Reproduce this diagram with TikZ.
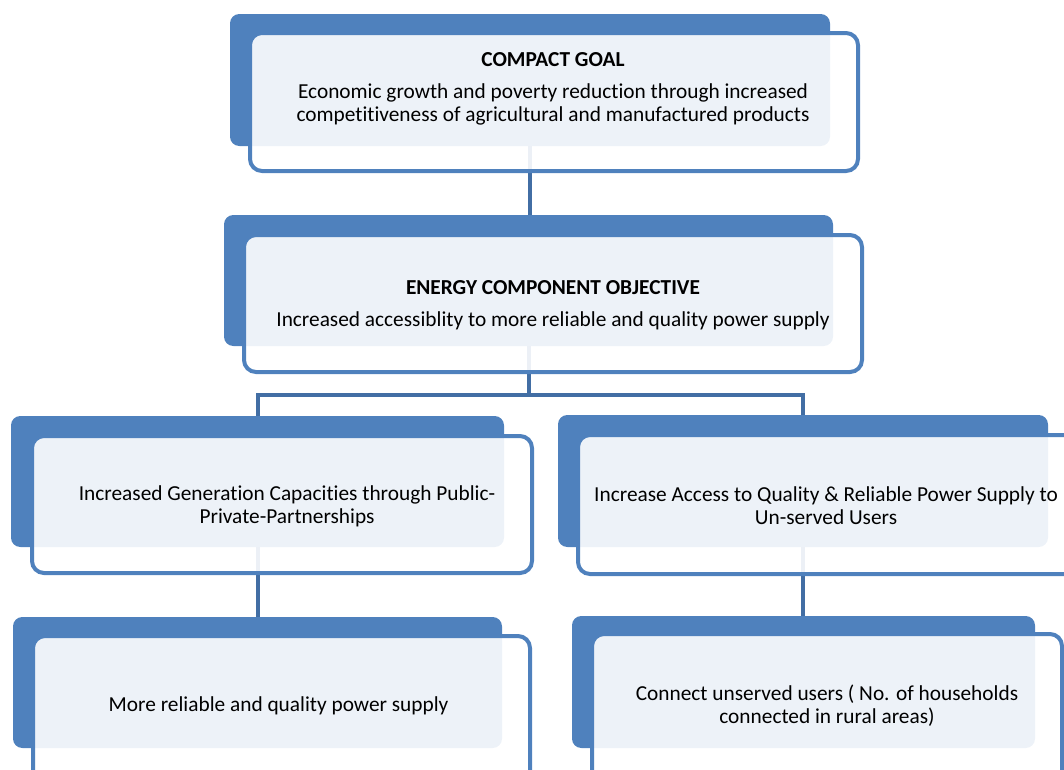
\documentclass[tikz,border=0pt]{standalone}
\usepackage{fontspec}
\setmainfont{Carlito}[Ligatures=NoCommon]
\usetikzlibrary{fit,backgrounds}

\definecolor{tabblue}{RGB}{79,129,189}
\definecolor{linkblue}{RGB}{66,110,164}

\begin{document}
\begin{tikzpicture}[
  x=0.75pt, y=-0.75pt,
  font=\fontsize{16pt}{17.25pt}\selectfont,
  tab/.style={
    fill=tabblue,
    rounded corners=7pt,
    inner sep=0pt
  },
  frame/.style={
    draw=tabblue,
    line width=3pt,
    fill=white,
    fill opacity=0.9,
    rounded corners=9pt,
    inner sep=0pt
  },
  txt/.style={
    align=center,
    text=black,
    inner sep=0pt
  },
  link/.style={draw=linkblue, line width=3pt}
]
\useasboundingbox (0,0) rectangle (1064,769);

% Compact goal
\node[tab, fit={(230,14) (830,146)}] (goal-tab) {};
\node[frame, fit={(250,33) (858,171)}] (goal) {};
\node[txt] (goal-text) at (553,89) {%
  \textbf{COMPACT GOAL}\\[7pt]
  Economic growth and poverty reduction through increased\\
  competitiveness of agricultural and manufactured products
};

% Energy component objective
\node[tab, fit={(224,215) (833,346)}] (obj-tab) {};
\node[frame, fit={(244,235) (862,372)}] (obj) {};
\node[txt] (obj-text) at (553,305.5) {%
  \textbf{ENERGY COMPONENT OBJECTIVE}\\[7pt]
  Increased accessiblity to more reliable and quality power supply
};

% Outcomes
\node[tab, fit={(11,416) (504,547)}] (gen-tab) {};
\node[frame, fit={(32,436) (532,573)}] (gen) {};
\node[txt] (gen-text) at (287,506) {%
  Increased Generation Capacities through Public-\\
  Private-Partnerships
};

\node[tab, fit={(558,415) (1048,547)}] (acc-tab) {};
\node[frame, fit={(578,435) (1082,574)}] (acc) {};
\node[txt] (acc-text) at (826,506) {%
  Increase Access to Quality \& Reliable Power Supply to\\
  Un-served Users
};

% Indicators
\node[tab, fit={(13,617) (502,748)}] (supply-tab) {};
\node[frame, fit={(33,636) (530,800)}] (supply) {};
\node[txt] (supply-text) at (281,705.5) {%
  More reliable and quality power supply
};

\node[tab, fit={(572,616) (1035,748)}] (users-tab) {};
\node[frame, fit={(592,634) (1062,800)}] (users) {};
\node[txt] (users-text) at (827,706) {%
  Connect unserved users ( No. of households\\
  connected in rural areas)
};

% Connectors
\coordinate (split) at (528.5,395);
\begin{scope}[on background layer]
\draw[link] (goal-tab.south) -- (goal-tab.south |- obj-tab.north);
\draw[link] (obj-tab.south) -- (split);
\draw[link] (gen-tab.north) |- (split) -| (acc-tab.north);
\draw[link] (gen-tab.south) -- (gen-tab.south |- supply-tab.north);
\draw[link] (acc-tab.south) -- (acc-tab.south |- users-tab.north);
\end{scope}

\end{tikzpicture}
\end{document}
